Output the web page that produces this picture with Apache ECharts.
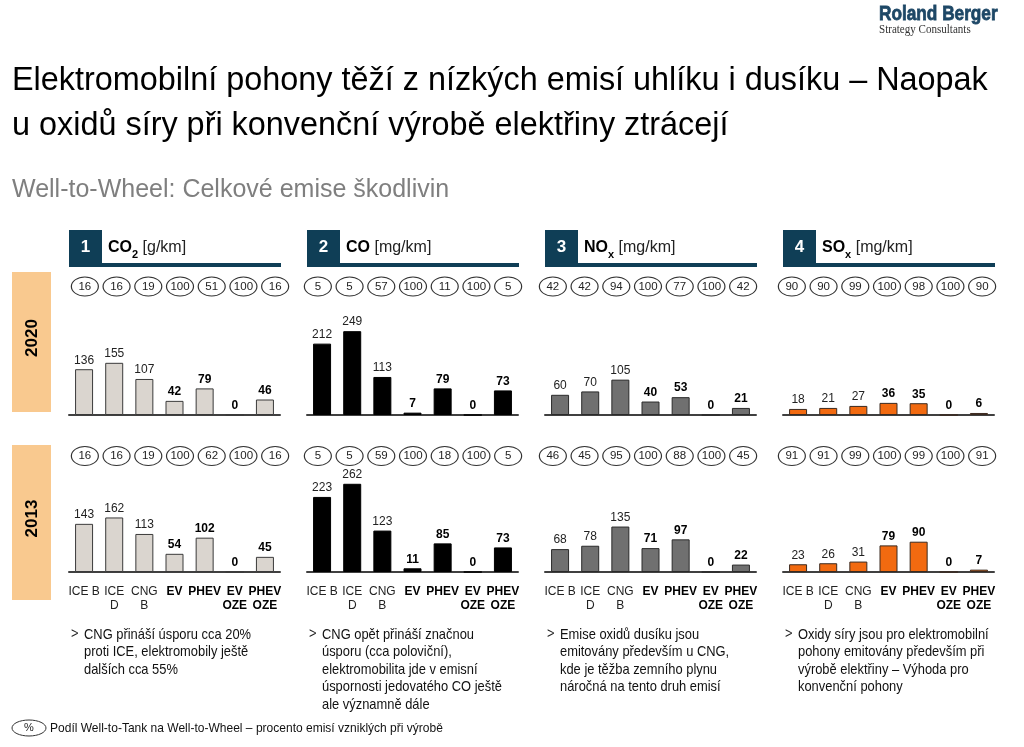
<!DOCTYPE html>
<html><head><meta charset="utf-8">
<script src="https://cdn.jsdelivr.net/npm/echarts@6/dist/echarts.min.js"></script>
<style>html,body{margin:0;padding:0;background:#fff}#c{width:1024px;height:747px}</style>
</head><body><div id="c"></div>
<script>
// ---------- DATA ----------
const categories = ['ICE B', 'ICE D', 'CNG B', 'EV', 'PHEV', 'EV OZE', 'PHEV OZE'];
const categoryLabels = ['ICE B', 'ICE\nD', 'CNG\nB', 'EV', 'PHEV', 'EV\nOZE', 'PHEV\nOZE'];
const years = ['2020', '2013'];

const co2_2020 = [136, 155, 107, 42, 79, 0, 46];
const co_2020  = [212, 249, 113, 7, 79, 0, 73];
const nox_2020 = [60, 70, 105, 40, 53, 0, 21];
const sox_2020 = [18, 21, 27, 36, 35, 0, 6];

const co2_2013 = [143, 162, 113, 54, 102, 0, 45];
const co_2013  = [223, 262, 123, 11, 85, 0, 73];
const nox_2013 = [68, 78, 135, 71, 97, 0, 22];
const sox_2013 = [23, 26, 31, 79, 90, 0, 7];

// Well-to-Tank share of Well-to-Wheel [%]
const co2Share_2020 = [16, 16, 19, 100, 51, 100, 16];
const coShare_2020  = [5, 5, 57, 100, 11, 100, 5];
const noxShare_2020 = [42, 42, 94, 100, 77, 100, 42];
const soxShare_2020 = [90, 90, 99, 100, 98, 100, 90];

const co2Share_2013 = [16, 16, 19, 100, 62, 100, 16];
const coShare_2013  = [5, 5, 59, 100, 18, 100, 5];
const noxShare_2013 = [46, 45, 95, 100, 88, 100, 45];
const soxShare_2013 = [91, 91, 99, 100, 99, 100, 91];

const panelNumbers = ['1', '2', '3', '4'];
const panelChem = ['CO', 'CO', 'NO', 'SO'];
const panelSub = ['2', '', 'x', 'x'];
const panelUnits = ['[g/km]', '[mg/km]', '[mg/km]', '[mg/km]'];

const notes = [
  'CNG přináší úsporu cca 20%\nproti ICE, elektromobily ještě\ndalších cca 55%',
  'CNG opět přináší značnou\núsporu (cca poloviční),\nelektromobilita jde v emisní\núspornosti jedovatého CO ještě\nale významně dále',
  'Emise oxidů dusíku jsou\nemitovány především u CNG,\nkde je těžba zemního plynu\nnáročná na tento druh emisí',
  'Oxidy síry jsou pro elektromobilní\npohony emitovány především při\nvýrobě elektřiny – Výhoda pro\nkonvenční pohony'
];

const titleText = 'Elektromobilní pohony těží z nízkých emisí uhlíku i dusíku – Naopak\nu oxidů síry při konvenční výrobě elektřiny ztrácejí';
const subtitleText = 'Well-to-Wheel: Celkové emise škodlivin';
const legendText = 'Podíl Well-to-Tank na Well-to-Wheel – procento emisí vzniklých při výrobě';

const values = [[co2_2020, co2_2013], [co_2020, co_2013], [nox_2020, nox_2013], [sox_2020, sox_2013]];
const shares = [[co2Share_2020, co2Share_2013], [coShare_2020, coShare_2013], [noxShare_2020, noxShare_2013], [soxShare_2020, soxShare_2013]];

// ---------- STYLE / LAYOUT ----------
const SANS = "'Liberation Sans',Arial,sans-serif";
const DARK = '#0f3e56';
const NARROW_SCALE = 0.86;
const barColors = ['#dad5cf', '#000000', '#707070', '#f26a10'];
const barBorders = ['#3a3a3a', '#000000', '#2a2a2a', '#3a2a20'];
const panelLeft = [69, 307, 545, 783];
const ovalLeft = [69, 302, 537, 776];
const barTop = [314, 471];
const barH = 101;
const ovalCY = [286.5, 456];
const BOLD_FROM = 3;

const grid = [], xAxis = [], yAxis = [], series = [];
for (let p = 0; p < 4; p++) {
  for (let r = 0; r < 2; r++) {
    const gi = grid.length;
    grid.push({ left: panelLeft[p], top: barTop[r], width: 211, height: barH });
    xAxis.push({
      type: 'category', gridIndex: gi, data: categories,
      axisLine: { show: true, lineStyle: { color: '#404040', width: 2 } },
      axisTick: { show: false },
      axisLabel: {
        show: r === 1, interval: 0, margin: 13,
        formatter: (v, i) => {
          const tag = i >= BOLD_FROM ? 'b' : 'n';
          return categoryLabels[i].split('\n').map(s => '{' + tag + '|' + s + '}').join('\n');
        },
        rich: {
          n: { fontFamily: SANS, fontSize: 12, lineHeight: 14, color: '#222' },
          b: { fontFamily: SANS, fontSize: 12, lineHeight: 14, color: '#000', fontWeight: 'bold' }
        }
      }
    });
    yAxis.push({ type: 'value', gridIndex: gi, min: 0, max: 300, show: false });
    series.push({
      type: 'bar', xAxisIndex: gi, yAxisIndex: gi, barWidth: 18, silent: true,
      itemStyle: { color: barColors[p], borderColor: barBorders[p], borderWidth: 1 },
      label: { show: true, position: 'top', distance: 3, fontFamily: SANS, fontSize: 12 },
      data: values[p][r].map((v, i) => ({
        value: v,
        label: i >= BOLD_FROM ? { fontWeight: 'bold', color: '#000' } : { fontWeight: 'normal', color: '#222' }
      }))
    });
    const oi = grid.length;
    grid.push({ left: ovalLeft[p], top: ovalCY[r] - 10, width: 222, height: 20 });
    xAxis.push({ type: 'category', gridIndex: oi, data: categories, show: false });
    yAxis.push({ type: 'value', gridIndex: oi, min: -1, max: 1, show: false });
    series.push({
      type: 'scatter', xAxisIndex: oi, yAxisIndex: oi, silent: true,
      symbol: 'circle', symbolSize: [27, 19],
      itemStyle: { color: '#fff', borderColor: '#333', borderWidth: 1, opacity: 1 },
      label: { show: true, position: 'inside', formatter: d => d.value[2], fontFamily: SANS, fontSize: 11.5, color: '#222' },
      data: shares[p][r].map((s, i) => [i, 0, s])
    });
  }
}

const graphic = [];
// logo
graphic.push({ type: 'text', x: 879, y: 4, scaleX: 0.82, style: { text: 'Roland Berger', font: "bold 21px " + SANS, fill: '#1d4766', stroke: '#1d4766', lineWidth: 0.8 } });
graphic.push({ type: 'text', x: 879, y: 24, scaleX: 0.92, style: { text: 'Strategy Consultants', font: "12px 'Liberation Serif','DejaVu Serif',serif", fill: '#333' } });
// title
graphic.push({ type: 'text', x: 12, y: 59, style: { text: titleText, fontFamily: SANS, fontSize: 32.4, lineHeight: 45, fill: '#000' } });
graphic.push({ type: 'text', x: 12, y: 190, style: { text: subtitleText, fontFamily: SANS, fontSize: 25, fill: '#7f7f7f', verticalAlign: 'middle' } });
// year bands
const bandY = [[272, 140], [445, 155]];
for (let r = 0; r < 2; r++) {
  graphic.push({ type: 'rect', shape: { x: 12, y: bandY[r][0], width: 39, height: bandY[r][1] }, style: { fill: '#f9c98f' } });
  graphic.push({ type: 'text', x: 32, y: bandY[r][0] + bandY[r][1] / 2 - 4, rotation: Math.PI / 2,
    style: { text: years[r], font: 'bold 17px ' + SANS, fill: '#000', align: 'center', verticalAlign: 'middle' } });
}
// panel headers & notes
for (let p = 0; p < 4; p++) {
  const L = panelLeft[p];
  graphic.push({ type: 'rect', shape: { x: L, y: 230, width: 33, height: 33 }, style: { fill: DARK } });
  graphic.push({ type: 'text', x: L + 16.5, y: 247, style: { text: panelNumbers[p], font: 'bold 17px ' + SANS, fill: '#fff', align: 'center', verticalAlign: 'middle' } });
  graphic.push({ type: 'rect', shape: { x: L, y: 263, width: 212, height: 4 }, style: { fill: DARK } });
  graphic.push({ type: 'text', x: L + 39, y: 236, style: {
    text: '{c|' + panelChem[p] + '}' + (panelSub[p] ? '{s|' + panelSub[p] + '}' : '') + '{u| ' + panelUnits[p] + '}',
    rich: {
      c: { fontFamily: SANS, fontSize: 16, fontWeight: 'bold', fill: '#000', lineHeight: 24, verticalAlign: 'middle' },
      s: { fontFamily: SANS, fontSize: 11, fontWeight: 'bold', fill: '#000', lineHeight: 12, verticalAlign: 'bottom' },
      u: { fontFamily: SANS, fontSize: 16, fill: '#222', lineHeight: 24, verticalAlign: 'middle' }
    } } });
  graphic.push({ type: 'text', x: L + 2, y: 626, scaleX: NARROW_SCALE, style: { text: '>', fontFamily: SANS, fontSize: 15, fill: '#222' } });
  graphic.push({ type: 'text', x: L + 15, y: 626, scaleX: NARROW_SCALE, style: { text: notes[p], fontFamily: SANS, fontSize: 15, lineHeight: 17.5, fill: '#111' } });
}
// legend footer
graphic.push({ type: 'ellipse', shape: { cx: 29, cy: 728, rx: 17, ry: 8 }, style: { fill: '#fff', stroke: '#333', lineWidth: 1 } });
graphic.push({ type: 'text', x: 29, y: 728, style: { text: '%', fontFamily: SANS, fontSize: 11, fill: '#222', align: 'center', verticalAlign: 'middle' } });
graphic.push({ type: 'text', x: 50, y: 728, scaleX: 0.89, style: { text: legendText, fontFamily: SANS, fontSize: 13.5, fill: '#111', verticalAlign: 'middle' } });

const chart = echarts.init(document.getElementById('c'), null, { renderer: 'canvas' });
chart.setOption({ animation: false, backgroundColor: '#fff', grid, xAxis, yAxis, series, graphic });
</script></body></html>
